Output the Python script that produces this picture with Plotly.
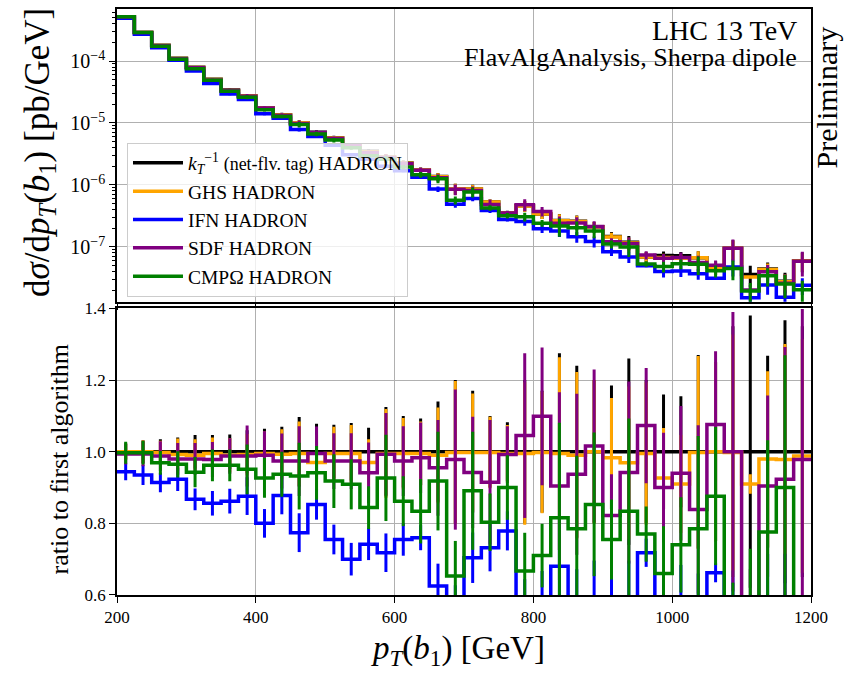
import plotly.graph_objects as go

# ---------------- data ----------------
bin_edges = [200, 225, 250, 275, 300, 325, 350, 375, 400, 425, 450, 475, 500, 525,
             550, 575, 600, 625, 650, 675, 700, 725, 750, 775, 800, 825, 850, 875,
             900, 925, 950, 975, 1000, 1025, 1050, 1075, 1100, 1125, 1150, 1175, 1200]

# reference algorithm (k_T^-1 net-flavour tag) differential cross-section [pb/GeV]
ref_xsec = [5.18e-4, 2.89e-4, 1.79e-4, 1.11e-4, 7.95e-5, 5.06e-5, 3.39e-5, 2.74e-5,
            1.76e-5, 1.36e-5, 1.01e-5, 7.07e-6, 5.77e-6, 4.4e-6, 3.5e-6, 2.8e-6,
            2.25e-6, 1.75e-6, 1.37e-6, 8.7e-7, 8.6e-7, 5.3e-7, 3.55e-7, 4.6e-7,
            3.4e-7, 2.66e-7, 2.6e-7, 2.11e-7, 1.47e-7, 1.19e-7, 6.9e-8, 7.3e-8,
            7.2e-8, 6.7e-8, 4.7e-8, 9.5e-8, 3.6e-8, 4.4e-8, 2.8e-8, 6.0e-8]

# ratios to the first algorithm
ratio_ghs = [1.0, 1.0, 0.998, 0.992, 0.99, 0.995, 0.99, 0.992, 0.995, 0.993,
             0.995, 0.97, 0.995, 0.995, 0.97, 0.995, 0.995, 0.995, 0.99, 0.998,
             0.998, 0.998, 0.995, 0.995, 0.998, 0.995, 0.99, 1.0, 0.983, 0.969,
             0.995, 0.927, 0.91, 0.998, 1.0, 0.998, 0.91, 0.98, 0.978, 0.988]
ratio_ifn = [0.944, 0.935, 0.914, 0.923, 0.867, 0.856, 0.862, 0.876, 0.80, 0.878,
             0.774, 0.853, 0.755, 0.70, 0.742, 0.718, 0.755, 0.76, 0.625, 0.56,
             0.704, 0.732, 0.779, 0.56, 0.58, 0.68, 0.56, 0.58, 0.57, 0.58,
             0.718, 0.55, 0.57, 0.55, 0.662, 0.5, 0.42, 0.55, 0.55, 0.4]
ratio_sdf = [0.994, 0.994, 0.988, 0.98, 0.98, 0.978, 0.988, 0.988, 0.99, 0.974,
             0.974, 0.995, 0.974, 0.974, 0.941, 0.993, 0.974, 0.983, 0.955, 0.978,
             0.942, 0.915, 0.992, 1.045, 1.099, 0.904, 0.937, 1.016, 0.822, 0.942,
             1.073, 0.9, 0.94, 0.839, 1.076, 1.0, 0.56, 0.904, 0.923, 0.978]
ratio_cmp = [0.997, 0.997, 0.969, 0.965, 0.943, 0.962, 0.962, 0.951, 0.927, 0.937,
             0.932, 0.941, 0.918, 0.909, 0.844, 0.927, 0.862, 0.834, 0.918, 0.653,
             0.891, 0.803, 0.9, 0.667, 0.71, 0.816, 0.785, 0.853, 0.755, 0.834,
             0.77, 0.66, 0.74, 0.785, 0.876, 0.47, 0.54, 0.776, 0.9, 0.34]

# relative statistical uncertainties
relerr_ref = [0.022, 0.032, 0.035, 0.04, 0.047, 0.047, 0.048, 0.06, 0.064, 0.07,
              0.097, 0.078, 0.075, 0.08, 0.067, 0.125, 0.1, 0.093, 0.14, 0.2,
              0.17, 0.1, 0.082, 0.2, 0.17, 0.275, 0.24, 0.2, 0.185, 0.26,
              0.2, 0.16, 0.155, 0.27, 0.25, 0.35, 0.38, 0.268, 0.367, 0.35]
relerr_ghs = [0.022, 0.031, 0.033, 0.045, 0.045, 0.045, 0.048, 0.058, 0.062, 0.07,
              0.09, 0.08, 0.075, 0.08, 0.067, 0.125, 0.1, 0.09, 0.135, 0.2,
              0.165, 0.1, 0.08, 0.2, 0.17, 0.27, 0.235, 0.2, 0.17, 0.22,
              0.2, 0.15, 0.15, 0.27, 0.25, 0.33, 0.03, 0.25, 0.33, 0.33]
relerr_ifn = [0.025, 0.03, 0.03, 0.035, 0.035, 0.04, 0.04, 0.06, 0.05, 0.06,
              0.07, 0.05, 0.055, 0.065, 0.06, 0.075, 0.06, 0.046, 0.1, 0.12,
              0.1, 0.09, 0.07, 0.15, 0.15, 0.2, 0.2, 0.2, 0.15, 0.2,
              0.055, 0.2, 0.2, 0.2, 0.04, 0.3, 0.3, 0.3, 0.3, 0.3]
relerr_sdf = [0.03, 0.035, 0.042, 0.045, 0.045, 0.05, 0.05, 0.086, 0.068, 0.079,
              0.1, 0.076, 0.08, 0.08, 0.09, 0.116, 0.1, 0.1, 0.14, 0.2,
              0.165, 0.19, 0.08, 0.22, 0.175, 0.29, 0.24, 0.21, 0.14, 0.27,
              0.15, 0.17, 0.2, 0.28, 0.19, 0.39, 0.2, 0.28, 0.4, 0.43]
relerr_cmp = [0.031, 0.033, 0.034, 0.038, 0.045, 0.046, 0.046, 0.073, 0.06, 0.067,
              0.1, 0.08, 0.082, 0.077, 0.071, 0.13, 0.081, 0.108, 0.15, 0.15,
              0.185, 0.1, 0.1, 0.16, 0.125, 0.325, 0.26, 0.235, 0.148, 0.31,
              0.1, 0.2, 0.18, 0.33, 0.22, 0.35, 0.35, 0.33, 0.41, 0.4]

series_names = ["<i>k</i><sub><i>T</i></sub><sup>−1</sup> <span style='font-size:18px'>(net-flv. tag)</span> HADRON",
                "GHS HADRON", "IFN HADRON", "SDF HADRON", "CMPΩ HADRON"]
series_colors = ["#000000", "#FFA500", "#0000FF", "#800080", "#008000"]

ytick_vals = [1e-4, 1e-5, 1e-6, 1e-7]
ytick_text = ["10<sup>−4</sup>", "10<sup>−5</sup>", "10<sup>−6</sup>", "10<sup>−7</sup>"]
xtick_vals = [200, 400, 600, 800, 1000, 1200]
rtick_vals = [0.6, 0.8, 1.0, 1.2, 1.4]

# ---------------- figure ----------------
FONT = "Liberation Serif"
ones = [r / r for r in ref_xsec]
ratios = [ones, ratio_ghs, ratio_ifn, ratio_sdf, ratio_cmp]
relerrs = [relerr_ref, relerr_ghs, relerr_ifn, relerr_sdf, relerr_cmp]
centers = [(a + b) / 2 for a, b in zip(bin_edges[:-1], bin_edges[1:])]

fig = go.Figure()
LW = 3.5
for name, col, rat, rel in zip(series_names, series_colors, ratios, relerrs):
    vals = [r * q for r, q in zip(ref_xsec, rat)]
    errs = [v * e for v, e in zip(vals, rel)]
    fig.add_trace(go.Scatter(x=bin_edges, y=vals + [vals[-1]], mode="lines",
                             line=dict(color=col, width=LW, shape="hv"),
                             name=name, xaxis="x", yaxis="y", showlegend=True))
    fig.add_trace(go.Scatter(x=centers, y=vals, mode="markers",
                             marker=dict(size=1, color=col),
                             error_y=dict(type="data", array=errs, color=col,
                                          thickness=3, width=0),
                             xaxis="x", yaxis="y", showlegend=False, hoverinfo="skip"))
for name, col, rat, rel in zip(series_names, series_colors, ratios, relerrs):
    rerrs = [r * e for r, e in zip(rat, rel)]
    fig.add_trace(go.Scatter(x=bin_edges, y=list(rat) + [rat[-1]], mode="lines",
                             line=dict(color=col, width=LW, shape="hv"),
                             xaxis="x2", yaxis="y2", showlegend=False))
    fig.add_trace(go.Scatter(x=centers, y=rat, mode="markers",
                             marker=dict(size=1, color=col),
                             error_y=dict(type="data", array=rerrs, color=col,
                                          thickness=3, width=0),
                             xaxis="x2", yaxis="y2", showlegend=False, hoverinfo="skip"))

axis_common = dict(showline=True, linecolor="black", linewidth=1.5, mirror=True,
                   ticks="outside", ticklen=6, tickwidth=1.2, tickcolor="black",
                   showgrid=True, gridcolor="#b0b0b0", gridwidth=1.2, zeroline=False,
                   automargin=False)
tf = dict(family=FONT, size=17, color="black")

fig.update_layout(
    width=845, height=673,
    margin=dict(l=117, r=34, t=9, b=78),
    paper_bgcolor="white", plot_bgcolor="white",
    font=dict(family=FONT, color="black"),
    xaxis=dict(domain=[0, 1], range=[200, 1200], anchor="y", showticklabels=False,
               tickvals=xtick_vals, tickfont=tf, **axis_common),
    yaxis=dict(domain=[0.5003, 1], type="log", range=[-7.886, -3.161], anchor="x",
               tickvals=ytick_vals, ticktext=ytick_text,
               tickfont=dict(family=FONT, size=20, color="black"),
               minor=dict(ticks="outside", ticklen=3.5, tickcolor="black",
                          tickvals=[m * 10.0 ** e for e in range(-8, -2) for m in range(2, 10)],
                          showgrid=False),
               **axis_common),
    xaxis2=dict(domain=[0, 1], range=[200, 1200], anchor="y2",
                tickvals=xtick_vals, tickfont=tf, **axis_common),
    yaxis2=dict(domain=[0, 0.489], range=[0.6, 1.4], anchor="x2",
                tickvals=rtick_vals, tickformat=".1f", tickfont=tf, **axis_common),
    legend=dict(x=0.0144, y=0.772, xanchor="left", yanchor="top", itemwidth=50,
                bgcolor="rgba(255,255,255,0.8)", bordercolor="#cccccc", borderwidth=1,
                font=dict(family=FONT, size=19.5, color="black")),
)

fig.add_annotation(xref="paper", yref="paper", x=0.982, y=0.964, xanchor="right", yanchor="middle",
                   text="LHC 13 TeV", showarrow=False, font=dict(family=FONT, size=28))
fig.add_annotation(xref="paper", yref="paper", x=0.982, y=0.917, xanchor="right", yanchor="middle",
                   text="FlavAlgAnalysis, Sherpa dipole", showarrow=False, font=dict(family=FONT, size=26))
fig.add_annotation(xref="paper", yref="paper", x=1.023, y=0.849, xanchor="center", yanchor="middle",
                   text="Preliminary", textangle=-90, showarrow=False, font=dict(family=FONT, size=30))
fig.add_annotation(xref="paper", yref="paper", x=-0.111, y=0.756, xanchor="center", yanchor="middle",
                   text="d<i>σ</i>/d<i>p</i><sub><i>T</i></sub>(<i>b</i><sub>1</sub>) [pb/GeV]",
                   textangle=-90, showarrow=False, font=dict(family=FONT, size=35))
fig.add_annotation(xref="paper", yref="paper", x=-0.083, y=0.232, xanchor="center", yanchor="middle",
                   text="ratio to first algorithm", textangle=-90, showarrow=False,
                   font=dict(family=FONT, size=26))
fig.add_annotation(xref="paper", yref="paper", x=0.491, y=-0.095, xanchor="center", yanchor="middle",
                   text="<i>p</i><sub><i>T</i></sub>(<i>b</i><sub>1</sub>) [GeV]", showarrow=False,
                   font=dict(family=FONT, size=33))

fig.write_html("out.html", config={"displayModeBar": False},
               post_script="document.body.style.margin='0px';")
